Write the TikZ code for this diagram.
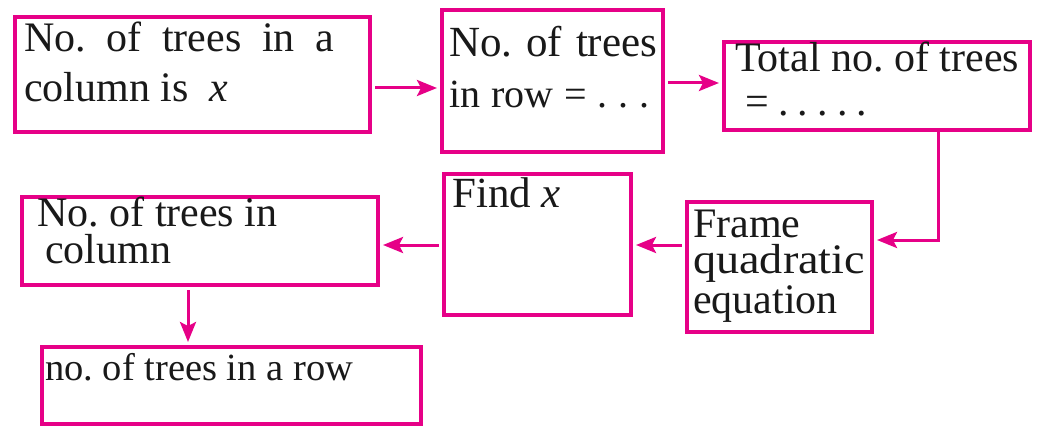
\documentclass[tikz,border=0pt]{standalone}
\usepackage{fontspec}
\setmainfont{Liberation Serif}
\usetikzlibrary{arrows.meta}
\definecolor{mag}{RGB}{230,0,135}
\definecolor{ink}{RGB}{25,25,25}
\tikzset{
  box/.style={draw=mag, line width=4pt, rectangle, inner sep=0pt, anchor=north west},
  txt/.style={anchor=base west, inner sep=0pt, text=ink, text height=0.72em, text depth=0.1em, font=\frenchspacing\fontsize{#1}{#1}\selectfont},
  arr/.style={draw=mag, line width=3pt, -{Stealth[length=20pt,width=16pt,inset=4pt]}, shorten >=3pt, shorten <=3pt}
}
\begin{document}
\frenchspacing
\begin{tikzpicture}[x=1pt,y=-1pt]
\useasboundingbox[fill=white] (0,0) rectangle (1042,436);
% boxes
\node[box, minimum width=355pt, minimum height=115pt] (a) at (13,15) {};
\node[box, minimum width=221pt, minimum height=142pt] (b) at (440,8) {};
\node[box, minimum width=306pt, minimum height=88pt] (c) at (722,40) {};
\node[box, minimum width=185pt, minimum height=130pt] (d) at (685,200) {};
\node[box, minimum width=187pt, minimum height=141pt] (e) at (442,172) {};
\node[box, minimum width=356pt, minimum height=88pt] (f) at (20,195) {};
\node[box, minimum width=379pt, minimum height=77pt] (g) at (40,345) {};
% texts
\node[txt=42] (a1) at (24,52) {\makebox[310pt][s]{No. of trees in a}};
\node[txt=42] (a2) at (24,101) {column is\ \ \textit{x}};
\node[txt=43] (b1) at (449,57) {\makebox[208pt][s]{No. of trees}};
\node[txt=40] (b2) at (449,107) {\makebox[200pt][s]{in row = . . .}};
\node[txt=42] (c1) at (735,72) {Total no. of trees};
\node[txt=42] (c2) at (745,115) {\makebox[122pt][s]{= . . . . .}};
\node[txt=42] (d1) at (693,237) {Frame};
\node[txt=42] (d2) at (693,273) {\scalebox{1.1}[1]{quadratic}};
\node[txt=42] (d3) at (693,313) {equation};
\node[txt=43] (e1) at (452,207) {Find \textit{x}};
\node[txt=42] (f1) at (37,226) {No. of trees in};
\node[txt=42] (f2) at (45,263) {column};
\node[txt=38.5] (g1) at (45,380) {no. of trees in a row};
% connectors
\coordinate (cd) at (938,240);
\draw[arr] (a.east |- 0,88) -- (b.west |- 0,88);
\draw[arr] (b.east |- 0,83) -- (c.west |- 0,83);
\draw[arr, shorten <=0pt] (c.south -| cd) -- (cd) -- (d.east |- cd);
\draw[arr] (d.west |- 0,245) -- (e.east |- 0,245);
\draw[arr] (e.west |- 0,245) -- (f.east |- 0,245);
\draw[arr] (f.south -| 188,0) -- (g.north -| 188,0);
\end{tikzpicture}
\end{document}
